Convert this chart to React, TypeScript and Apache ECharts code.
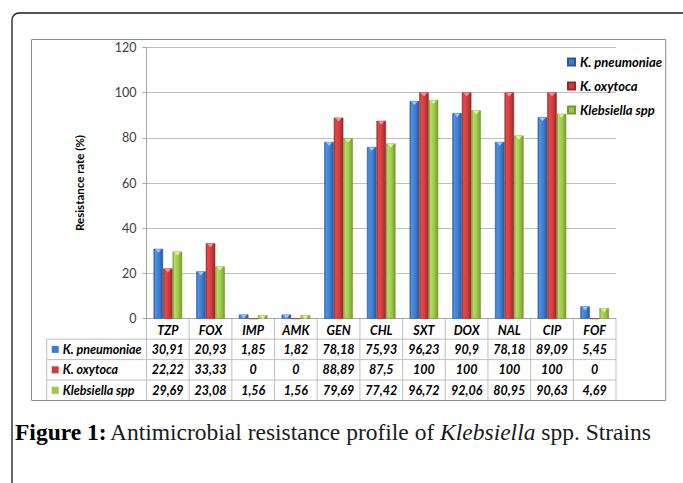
import React, { useEffect, useRef } from "react";
import * as echarts from "echarts";

const categories = ["TZP", "FOX", "IMP", "AMK", "GEN", "CHL", "SXT", "DOX", "NAL", "CIP", "FOF"];
const seriesNames = ["K. pneumoniae", "K. oxytoca", "Klebsiella spp"];
const kPneumoniae = [30.91, 20.93, 1.85, 1.82, 78.18, 75.93, 96.23, 90.9, 78.18, 89.09, 5.45];
const kOxytoca = [22.22, 33.33, 0, 0, 88.89, 87.5, 100, 100, 100, 100, 0];
const klebsiellaSpp = [29.69, 23.08, 1.56, 1.56, 79.69, 77.42, 96.72, 92.06, 80.95, 90.63, 4.69];
const yTicks = [0, 20, 40, 60, 80, 100, 120];
const yAxisTitle = "Resistance rate (%)";

const seriesData = [kPneumoniae, kOxytoca, klebsiellaSpp];

const flatColors = ["#3b7dd3", "#d03c3c", "#9cc74a"];
const gradStops = [
  ["#2c5fa6", "#4f91e2", "#3b7dd3", "#2a5896"],
  ["#a02a2a", "#e24b4b", "#d03c3c", "#962828"],
  ["#78a233", "#b6db62", "#9cc74a", "#729a2f"],
];
const tipColors = ["#9cc8f4", "#f29a9a", "#e0f29a"];

const FONT = "Lato";

function grad(i: number) {
  const s = gradStops[i];
  return new echarts.graphic.LinearGradient(0, 0, 1, 0, [
    { offset: 0, color: s[0] },
    { offset: 0.18, color: s[1] },
    { offset: 0.6, color: s[2] },
    { offset: 1, color: s[3] },
  ]);
}

const fmt = (v: number) => String(v).replace(".", ",");

export default function App() {
  const ref = useRef<HTMLDivElement>(null);
  useEffect(() => {
    if (!ref.current) return;
    const chart = echarts.init(ref.current, null, { renderer: "svg" });
    const gridLeft = 146.5;
    const gridRight = 67;
    const gridTop = 47.3;
    const gridBottom = 164.3;

    const barSeries: any[] = seriesData.map((d, i) => ({
      name: seriesNames[i],
      type: "bar",
      data: d,
      barGap: "0%",
      barCategoryGap: "33%",
      itemStyle: { color: grad(i), borderColor: gradStops[i][3], borderWidth: 0.5 },
      silent: true,
    }));
    const tipSeries: any[] = seriesData.map((d, i) => ({
      name: "tip" + i,
      type: "pictorialBar",
      data: d.map((v) => (v > 0 ? v : "-")),
      barGap: "0%",
      barCategoryGap: "33%",
      symbol: "path://M0,0 L10,0 L5,6 Z",
      symbolPosition: "end",
      symbolSize: [6, 3.5],
      symbolOffset: [0, 0.5],
      itemStyle: { color: tipColors[i] },
      silent: true,
      z: 3,
    }));

    chart.setOption({
      animation: false,
      backgroundColor: "#ffffff",
      grid: {
        left: gridLeft,
        right: gridRight,
        top: gridTop,
        bottom: gridBottom,
        containLabel: false,
        outerBoundsMode: "none",
      },
      legend: {
        orient: "vertical",
        left: 567,
        top: 55,
        padding: 0,
        itemWidth: 7,
        itemHeight: 7,
        itemGap: 10,
        icon: "rect",
        selectedMode: false,
        data: seriesNames.map((n, i) => ({ name: n, itemStyle: { color: flatColors[i] } })),
        textStyle: {
          fontFamily: FONT,
          fontSize: 13,
          fontWeight: "bold",
          fontStyle: "italic",
          color: "#000",
          lineHeight: 14,
        },
      },
      xAxis: {
        type: "category",
        data: categories,
        axisLine: { show: true, lineStyle: { color: "#a6a6a6", width: 1 } },
        axisTick: { show: false },
        axisLabel: {
          margin: 5,
          fontFamily: FONT,
          fontSize: 12.5,
          fontWeight: "bold",
          fontStyle: "italic",
          color: "#000",
        },
        splitLine: { show: false },
      },
      yAxis: {
        type: "value",
        min: 0,
        max: yTicks[yTicks.length - 1],
        interval: yTicks[1] - yTicks[0],
        name: yAxisTitle,
        nameLocation: "middle",
        nameRotate: 90,
        nameGap: 61,
        nameTextStyle: { fontFamily: FONT, fontSize: 11.5, fontWeight: "bold", color: "#000" },
        axisLine: { show: true, lineStyle: { color: "#a6a6a6" } },
        axisTick: { show: true, length: 4, lineStyle: { color: "#a6a6a6" } },
        axisLabel: { margin: 10, fontFamily: FONT, fontSize: 12.5, color: "#404040" },
        splitLine: { show: true, lineStyle: { color: "#bfbfbf", width: 1 } },
      },
      series: [...barSeries, ...tipSeries],
    });

    // Build data table and frame using the chart's own scales
    const xs = categories.map((_, i) => chart.convertToPixel({ xAxisIndex: 0 }, i) as number);
    const colW = xs.length > 1 ? xs[1] - xs[0] : 40;
    const plotL = xs[0] - colW / 2;
    const plotR = xs[xs.length - 1] + colW / 2;
    const y0 = chart.convertToPixel({ yAxisIndex: 0 }, 0) as number;
    const tableBottom = 400.5;
    const rowH = (tableBottom - y0) / 4;
    const tableLeft = 46.7;
    const lineColor = "#bfbfbf";

    const elements: any[] = [];
    elements.push({
      type: "rect",
      shape: { x: 12, y: 13, width: 720, height: 520, r: 7 },
      style: { fill: "none", stroke: "#1a1a1a", lineWidth: 1.3 },
      silent: true,
      z: 0,
    });
    elements.push({
      type: "rect",
      shape: { x: 31.5, y: 39.5, width: 634.2, height: tableBottom - 39.5 },
      style: { fill: "none", stroke: "#8c8c8c", lineWidth: 1 },
      silent: true,
      z: 1,
    });
    for (let k = 1; k <= 3; k++) {
      const y = y0 + rowH * k;
      elements.push({
        type: "line",
        shape: { x1: tableLeft, y1: y, x2: plotR, y2: y },
        style: { stroke: lineColor, lineWidth: 1 },
        silent: true,
      });
    }
    for (let k = 0; k <= categories.length; k++) {
      const x = plotL + colW * k;
      elements.push({
        type: "line",
        shape: { x1: x, y1: y0, x2: x, y2: tableBottom },
        style: { stroke: lineColor, lineWidth: 1 },
        silent: true,
      });
    }
    elements.push({
      type: "line",
      shape: { x1: tableLeft, y1: y0 + rowH, x2: tableLeft, y2: tableBottom },
      style: { stroke: lineColor, lineWidth: 1 },
      silent: true,
    });
    seriesData.forEach((d, r) => {
      const cy = y0 + rowH * (r + 1) + rowH / 2;
      elements.push({
        type: "rect",
        shape: { x: tableLeft + 5, y: cy - 3.5, width: 7, height: 7 },
        style: { fill: flatColors[r] },
        silent: true,
      });
      elements.push({
        type: "text",
        x: tableLeft + 16,
        y: cy,
        style: {
          text: seriesNames[r],
          fontFamily: FONT,
          fontSize: 12.5,
          fontWeight: "bold",
          fontStyle: "italic",
          fill: "#000",
          align: "left",
          verticalAlign: "middle",
        },
        silent: true,
      });
      d.forEach((v, i) => {
        elements.push({
          type: "text",
          x: xs[i],
          y: cy,
          style: {
            text: fmt(v),
            fontFamily: FONT,
            fontSize: 12.5,
            fontWeight: "bold",
            fontStyle: "italic",
            fill: "#000",
            align: "center",
            verticalAlign: "middle",
          },
          silent: true,
        });
      });
    });
    elements.push({
      type: "text",
      x: 15,
      y: 432,
      style: {
        text: "{b|Figure 1:} {n|Antimicrobial resistance profile of }{i|Klebsiella}{n| spp. Strains}",
        verticalAlign: "middle",
        align: "left",
        rich: {
          b: { fontFamily: "Liberation Serif", fontSize: 23.5, fontWeight: "bold", fill: "#000" },
          n: { fontFamily: "Liberation Serif", fontSize: 23.5, fill: "#1a1a1a" },
          i: { fontFamily: "Liberation Serif", fontSize: 23.5, fontStyle: "italic", fill: "#1a1a1a" },
        },
      },
      silent: true,
    });

    chart.setOption({ graphic: { elements } });

    return () => chart.dispose();
  }, []);

  return (
    <div
      ref={ref}
      style={{ position: "fixed", left: 0, top: 0, width: 683, height: 483, background: "#fff" }}
    />
  );
}
